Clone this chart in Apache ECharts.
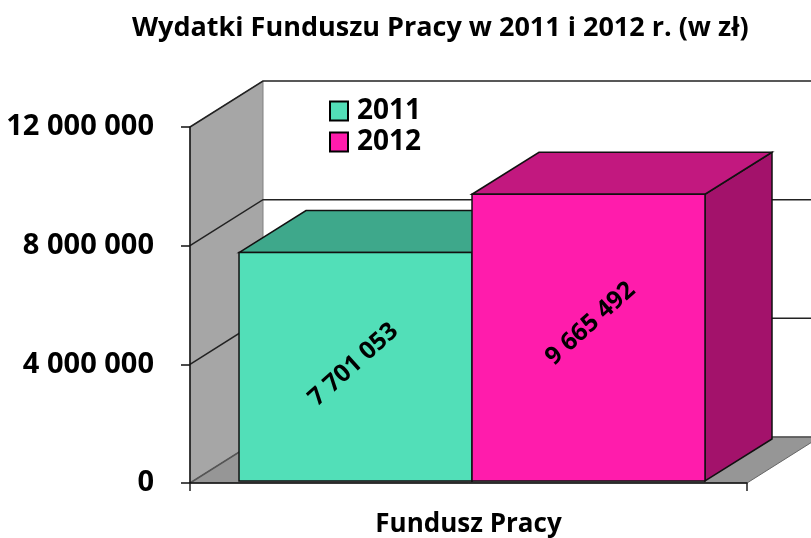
<!DOCTYPE html>
<html><head><meta charset="utf-8">
<style>html,body{margin:0;padding:0;background:#fff}#c{width:811px;height:538px}</style>
<script src="https://cdn.jsdelivr.net/npm/echarts@6/dist/echarts.min.js"></script>
</head><body><div id="c"></div>
<script>
const categories = ['Fundusz Pracy'];
const years = ['2011', '2012'];
const values2011 = [7701053];
const values2012 = [9665492];
const yTicks = [0, 4000000, 8000000, 12000000];
const titleText = 'Wydatki Funduszu Pracy w 2011 i 2012 r. (w zł)';

const FONT = '"Open Sans", sans-serif';
const fmt = v => String(v).replace(/\B(?=(\d{3})+(?!\d))/g, ' ');
const WALL = {dx: 73, dy: -46};
const DEPTH = {dx: 67, dy: -42};
const line = {stroke: '#111', lineWidth: 1.5};

function wallRender(params, api) {
  const size = api.size([1, 0])[0];
  const c0 = api.coord([0, 0]);
  const xL = c0[0] - size / 2, xR = c0[0] + size / 2, y0 = c0[1];
  const yTop = api.coord([0, yTicks[yTicks.length - 1]])[1];
  const ch = [];
  ch.push({type: 'polygon', shape: {points: [[xL, y0], [xL + WALL.dx, y0 + WALL.dy], [xL + WALL.dx, yTop + WALL.dy], [xL, yTop]]},
    style: {fill: '#a6a6a6', stroke: '#808080', lineWidth: 1}});
  ch.push({type: 'polygon', shape: {points: [[xL, y0], [xR, y0], [xR + WALL.dx, y0 + WALL.dy], [xL + WALL.dx, y0 + WALL.dy]]},
    style: {fill: '#969696', stroke: '#666', lineWidth: 1}});
  yTicks.forEach(t => {
    const y = api.coord([0, t])[1];
    ch.push({type: 'polyline', shape: {points: [[xL, y], [xL + WALL.dx, y + WALL.dy], [xR + WALL.dx, y + WALL.dy]]},
      style: {fill: 'none', stroke: t === 0 ? '#555' : '#222', lineWidth: 1.5}});
  });
  return {type: 'group', children: ch};
}

function barRender(cfg) {
  return function (params, api) {
    const size = api.size([1, 0])[0];
    const cx = api.coord([api.value(0), 0])[0];
    const top = api.coord([api.value(0), api.value(1)])[1] - 2;
    const base = api.coord([api.value(0), 0])[1] - 2;
    const x1 = cx + size * cfg.from, x2 = cx + size * cfg.to;
    return {type: 'group', children: [
      {type: 'polygon', shape: {points: [[x2, top], [x2 + DEPTH.dx, top + DEPTH.dy], [x2 + DEPTH.dx, base + DEPTH.dy], [x2, base]]},
        style: Object.assign({fill: cfg.side}, line)},
      {type: 'polygon', shape: {points: [[x1, top], [x1 + DEPTH.dx, top + DEPTH.dy], [x2 + DEPTH.dx, top + DEPTH.dy], [x2, top]]},
        style: Object.assign({fill: cfg.top}, line)},
      {type: 'rect', shape: {x: x1, y: top, width: x2 - x1, height: base - top},
        style: Object.assign({fill: cfg.front}, line)},
      {type: 'text', x: (x1 + x2) / 2 + cfg.lx, y: (top + base) / 2 + cfg.ly, rotation: 42 * Math.PI / 180,
        style: {text: fmt(api.value(1)), fill: '#000', font: 'bold 24.5px ' + FONT, align: 'center', verticalAlign: 'middle'}}
    ]};
  };
}

const chart = echarts.init(document.getElementById('c'), null, {renderer: 'canvas'});
chart.setOption({
  animation: false,
  backgroundColor: '#fff',
  title: {text: titleText, left: 127, top: 10, textStyle: {fontFamily: FONT, fontWeight: 'bold', fontSize: 27, color: '#000'}},
  grid: {left: 190, right: 64, top: 127, bottom: 54},
  legend: {
    data: years, orient: 'vertical', left: 329, top: 97, padding: 0, itemWidth: 18, itemHeight: 19, itemGap: 3, icon: 'rect',
    textStyle: {fontFamily: FONT, fontWeight: 'bold', fontSize: 28, color: '#000', padding: [0, 0, 0, 4]}
  },
  xAxis: {
    type: 'category', data: categories, z: 3,
    axisTick: {show: true, length: 8, lineStyle: {color: '#222', width: 1.5}},
    axisLine: {lineStyle: {color: '#111', width: 1.5}},
    axisLabel: {margin: 29, color: '#000', fontFamily: FONT, fontWeight: 'bold', fontSize: 26}
  },
  yAxis: {
    type: 'value', min: 0, max: 12000000, interval: 4000000, z: 3,
    axisLine: {show: true, lineStyle: {color: '#111', width: 1.5}},
    axisTick: {show: true, length: 9, lineStyle: {color: '#111', width: 1.5}},
    splitLine: {show: false},
    axisLabel: {margin: 36, color: '#000', fontFamily: FONT, fontWeight: 'bold', fontSize: 29, padding: [6, 0, 0, 0], formatter: v => fmt(v)}
  },
  series: [
    {name: 'walls', type: 'custom', z: 1, clip: false, silent: true, data: [[0, 0]], encode: {x: 0, y: 1}, renderItem: wallRender},
    {name: years[0], type: 'custom', z: 4, clip: false, itemStyle: {color: '#52dfb8', borderColor: '#000', borderWidth: 2.5},
      data: values2011.map((v, i) => [i, v]), encode: {x: 0, y: 1},
      renderItem: barRender({from: -0.412, to: 0.0063, front: '#52dfb8', top: '#3ea88b', side: '#3ea88b', lx: -2, ly: -2})},
    {name: years[1], type: 'custom', z: 4, clip: false, itemStyle: {color: '#ff1cac', borderColor: '#000', borderWidth: 2.5},
      data: values2012.map((v, i) => [i, v]), encode: {x: 0, y: 1},
      renderItem: barRender({from: 0.0063, to: 0.4246, front: '#ff1cac', top: '#c2187f', side: '#a3126b', lx: 2, ly: -14})}
  ]
});
</script></body></html>
